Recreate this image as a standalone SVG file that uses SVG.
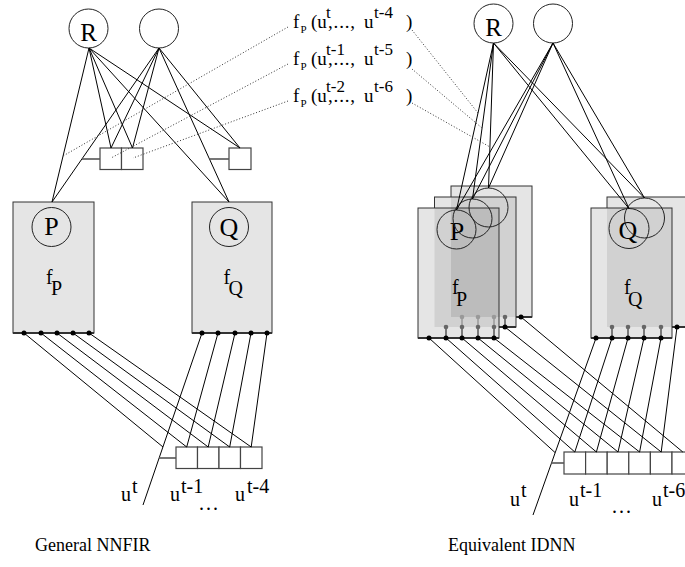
<svg xmlns="http://www.w3.org/2000/svg" width="685" height="567" viewBox="0 0 685 567">
<style>
  .ln { stroke:#000; stroke-width:1; fill:none; }
  .dots { stroke:#333; stroke-width:1; stroke-dasharray:1 2; fill:none; }
  .stub { stroke:#555; stroke-width:1.6; fill:none; }
  .node { fill:none; stroke:#222; stroke-width:1; }
  .boxfill { fill:#e5e5e5; stroke:none; }
  .ov1 { fill:#d1d1d1; stroke:none; }
  .ov2 { fill:#bcbcbc; stroke:none; }
  .outline { fill:none; stroke:#333; stroke-width:1; }
  .bus { stroke:#333; stroke-width:2; fill:none; }
  .cell { fill:#fff; stroke:#444; stroke-width:1.2; }
  .pin { fill:#000; }
  .pin1 { fill:#666; }
  .pin2 { fill:#999; }
  .tie1 { stroke:#555; stroke-width:1.5; }
  .tie2 { stroke:#999; stroke-width:1.5; }
  text { font-family:"Liberation Serif","Times New Roman",serif; fill:#000; }
  .big { font-size:25px; text-anchor:middle; }
  .mid { font-size:20px; }
  .lab { font-size:19px; }
  .sup { font-size:17px; }
  .sub { font-size:11px; }
  .cap { font-size:18px; }
</style>

<!-- ===================== General NNFIR (left) ===================== -->
<g id="left-output-R">
  <circle class="node" cx="88.5" cy="28.5" r="19.5"/>
  <text class="big" x="88.5" y="41">R</text>
</g>
<g id="left-output-2">
  <circle class="node" cx="159" cy="28.5" r="19.5"/>
</g>

<g id="left-delay-state">
  <rect class="cell" x="100" y="148" width="21.5" height="21.5"/>
  <rect class="cell" x="121.5" y="148" width="21.5" height="21.5"/>
</g>
<g id="left-delay-state-q">
  <rect class="cell" x="229" y="148" width="22" height="21.5"/>
</g>

<g id="left-P">
  <rect class="boxfill" x="13" y="202" width="81" height="131"/>
  <rect class="outline" x="13" y="202" width="81" height="131"/>
  <line class="bus" x1="13" y1="333" x2="94" y2="333"/>
  <circle class="node" cx="51.5" cy="227" r="19.5"/>
  <text class="big" x="51.5" y="235" style="font-size:26px">P</text>
  <text class="mid" x="46" y="284">f</text>
  <text class="mid" x="51" y="295">P</text>
  <circle class="pin" cx="24" cy="333" r="2.5"/>
  <circle class="pin" cx="41" cy="333" r="2.5"/>
  <circle class="pin" cx="57" cy="333" r="2.5"/>
  <circle class="pin" cx="73" cy="333" r="2.5"/>
  <circle class="pin" cx="89" cy="333" r="2.5"/>
</g>

<g id="left-Q">
  <rect class="boxfill" x="192" y="202" width="80" height="131"/>
  <rect class="outline" x="192" y="202" width="80" height="131"/>
  <line class="bus" x1="192" y1="333" x2="272" y2="333"/>
  <circle class="node" cx="229" cy="227" r="19.5"/>
  <text class="big" x="229" y="236" style="font-size:26px">Q</text>
  <text class="mid" x="223.5" y="284">f</text>
  <text class="mid" x="228.5" y="295">Q</text>
  <circle class="pin" cx="202" cy="333" r="2.5"/>
  <circle class="pin" cx="218" cy="333" r="2.5"/>
  <circle class="pin" cx="235" cy="333" r="2.5"/>
  <circle class="pin" cx="251" cy="333" r="2.5"/>
  <circle class="pin" cx="267" cy="333" r="2.5"/>
</g>

<g id="left-tapped-delay">
  <rect class="cell" x="176" y="447" width="21.5" height="21.5"/>
  <rect class="cell" x="197.5" y="447" width="21.5" height="21.5"/>
  <rect class="cell" x="219" y="447" width="21.5" height="21.5"/>
  <rect class="cell" x="240.5" y="447" width="21.5" height="21.5"/>
</g>

<g id="left-connectors">
  <!-- output units to P, state cells and Q -->
  <line class="ln" x1="89" y1="48" x2="52" y2="202"/>
  <line class="ln" x1="89" y1="48" x2="111" y2="148"/>
  <line class="ln" x1="89" y1="48" x2="132.5" y2="148"/>
  <line class="ln" x1="89" y1="48" x2="240" y2="148"/>
  <line class="ln" x1="89" y1="48" x2="229" y2="202"/>
  <line class="ln" x1="159" y1="48" x2="52" y2="202"/>
  <line class="ln" x1="159" y1="48" x2="111" y2="148"/>
  <line class="ln" x1="159" y1="48" x2="132.5" y2="148"/>
  <line class="ln" x1="159" y1="48" x2="240" y2="148"/>
  <line class="ln" x1="159" y1="48" x2="229" y2="202"/>
  <line class="stub" x1="82" y1="159" x2="100" y2="159"/>
  <line class="stub" x1="209.5" y1="159" x2="229" y2="159"/>
  <!-- input line and taps -->
  <line class="ln" x1="202" y1="333" x2="143" y2="505"/>
  <line class="stub" x1="159" y1="458" x2="176" y2="458"/>
  <line class="ln" x1="24" y1="333" x2="163" y2="447"/>
  <line class="ln" x1="41" y1="333" x2="186.7" y2="447"/>
  <line class="ln" x1="57" y1="333" x2="208.2" y2="447"/>
  <line class="ln" x1="73" y1="333" x2="229.7" y2="447"/>
  <line class="ln" x1="89" y1="333" x2="251.2" y2="447"/>
  <line class="ln" x1="218" y1="333" x2="186.7" y2="447"/>
  <line class="ln" x1="235" y1="333" x2="208.2" y2="447"/>
  <line class="ln" x1="251" y1="333" x2="229.7" y2="447"/>
  <line class="ln" x1="267" y1="333" x2="251.2" y2="447"/>
  <!-- dotted label leaders -->
  <line class="dots" x1="288" y1="27" x2="63" y2="156"/>
  <line class="dots" x1="288" y1="64" x2="111" y2="158"/>
  <line class="dots" x1="288" y1="101" x2="133" y2="158"/>
</g>

<g id="left-inputs">
  <text class="mid" x="121" y="501">u</text>
  <text class="mid" x="132" y="493">t</text>
  <text class="mid" x="170" y="501">u</text>
  <text class="mid" x="181" y="493">t-1</text>
  <text class="mid" x="199" y="510" style="letter-spacing:2px">...</text>
  <text class="mid" x="235" y="501">u</text>
  <text class="mid" x="247" y="493">t-4</text>
</g>

<!-- ===================== labels in the middle ===================== -->
<g id="label-1">
  <text class="lab" x="293" y="28">f</text>
  <text class="sub" x="300.5" y="33">P</text>
  <text class="lab" x="311" y="28">(u</text>
  <text class="sup" x="326" y="18">t</text>
  <text class="lab" x="328" y="28" textLength="27" lengthAdjust="spacing">,...,</text>
  <text class="lab" x="364" y="28">u</text>
  <text class="sup" x="374" y="18">t-4</text>
  <text class="lab" x="406" y="28">)</text>
</g>
<g id="label-2">
  <text class="lab" x="293" y="65">f</text>
  <text class="sub" x="300.5" y="70">P</text>
  <text class="lab" x="311" y="65">(u</text>
  <text class="sup" x="326" y="55">t-1</text>
  <text class="lab" x="328" y="65" textLength="27" lengthAdjust="spacing">,...,</text>
  <text class="lab" x="364" y="65">u</text>
  <text class="sup" x="374" y="55">t-5</text>
  <text class="lab" x="406" y="65">)</text>
</g>
<g id="label-3">
  <text class="lab" x="293" y="102">f</text>
  <text class="sub" x="300.5" y="107">P</text>
  <text class="lab" x="311" y="102">(u</text>
  <text class="sup" x="326" y="92">t-2</text>
  <text class="lab" x="328" y="102" textLength="27" lengthAdjust="spacing">,...,</text>
  <text class="lab" x="364" y="102">u</text>
  <text class="sup" x="374" y="92">t-6</text>
  <text class="lab" x="406" y="102">)</text>
</g>

<!-- ===================== Equivalent IDNN (right) ===================== -->
<g id="right-P-stack">
  <!-- back copy -->
  <rect class="boxfill" x="451" y="186" width="81" height="131"/>
  <rect class="outline" x="451" y="186" width="81" height="131"/>
  <line class="bus" x1="451" y1="317" x2="532" y2="317"/>
  <circle class="pin" cx="521" cy="317" r="2.5"/>
  <!-- middle copy -->
  <rect class="boxfill" x="434.5" y="197" width="81.5" height="130"/>
  <rect class="ov1" x="451" y="197" width="65" height="120"/>
  <rect class="outline" x="434.5" y="197" width="81.5" height="130"/>
  <line class="bus" x1="434.5" y1="327" x2="516" y2="327"/>
  <line class="tie1" x1="505" y1="317" x2="505" y2="327"/>
  <circle class="pin1" cx="505" cy="317" r="2.3"/>
  <circle class="pin" cx="505" cy="327" r="2.5"/>
  <!-- front copy -->
  <rect class="boxfill" x="418" y="208" width="81" height="130"/>
  <rect class="ov1" x="434.5" y="208" width="64.5" height="119"/>
  <rect class="ov2" x="451" y="208" width="48" height="109"/>
  <rect class="outline" x="418" y="208" width="81" height="130"/>
  <line class="bus" x1="418" y1="338" x2="499" y2="338"/>
  <line class="tie2" x1="462" y1="317" x2="462" y2="327"/>
  <line class="tie2" x1="478" y1="317" x2="478" y2="327"/>
  <line class="tie2" x1="494" y1="317" x2="494" y2="327"/>
  <line class="tie1" x1="446" y1="327" x2="446" y2="338"/>
  <line class="tie1" x1="462" y1="327" x2="462" y2="338"/>
  <line class="tie1" x1="478" y1="327" x2="478" y2="338"/>
  <line class="tie1" x1="494" y1="327" x2="494" y2="338"/>
  <circle class="pin2" cx="462" cy="317" r="2.3"/>
  <circle class="pin2" cx="478" cy="317" r="2.3"/>
  <circle class="pin2" cx="494" cy="317" r="2.3"/>
  <circle class="pin1" cx="446" cy="327" r="2.3"/>
  <circle class="pin1" cx="462" cy="327" r="2.3"/>
  <circle class="pin1" cx="478" cy="327" r="2.3"/>
  <circle class="pin1" cx="494" cy="327" r="2.3"/>
  <circle class="pin" cx="429" cy="338" r="2.5"/>
  <circle class="pin" cx="446" cy="338" r="2.5"/>
  <circle class="pin" cx="462" cy="338" r="2.5"/>
  <circle class="pin" cx="478" cy="338" r="2.5"/>
  <circle class="pin" cx="494" cy="338" r="2.5"/>
  <text class="mid" x="452" y="294">f</text>
  <text class="mid" x="456" y="306">P</text>
  <text class="big" x="457" y="240" style="font-size:26px">P</text>
  <circle class="node" cx="488.5" cy="207.5" r="19.5"/>
  <circle class="node" cx="472.5" cy="218.5" r="19.5"/>
  <circle class="node" cx="456.5" cy="229.5" r="19.5"/>
</g>

<g id="right-Q-stack">
  <!-- back copy -->
  <rect class="boxfill" x="607" y="197" width="81" height="130"/>
  <rect class="outline" x="607" y="197" width="81" height="130"/>
  <line class="bus" x1="607" y1="327" x2="688" y2="327"/>
  <circle class="pin" cx="677" cy="327" r="2.5"/>
  <!-- front copy -->
  <rect class="boxfill" x="591" y="208" width="81" height="130"/>
  <rect class="ov1" x="607" y="208" width="65" height="119"/>
  <rect class="outline" x="591" y="208" width="81" height="130"/>
  <line class="bus" x1="591" y1="338" x2="672" y2="338"/>
  <line class="tie1" x1="612" y1="327" x2="612" y2="338"/>
  <line class="tie1" x1="628" y1="327" x2="628" y2="338"/>
  <line class="tie1" x1="644" y1="327" x2="644" y2="338"/>
  <line class="tie1" x1="661" y1="327" x2="661" y2="338"/>
  <circle class="pin1" cx="612" cy="327" r="2.3"/>
  <circle class="pin1" cx="628" cy="327" r="2.3"/>
  <circle class="pin1" cx="644" cy="327" r="2.3"/>
  <circle class="pin1" cx="661" cy="327" r="2.3"/>
  <circle class="pin" cx="596" cy="338" r="2.5"/>
  <circle class="pin" cx="612" cy="338" r="2.5"/>
  <circle class="pin" cx="628" cy="338" r="2.5"/>
  <circle class="pin" cx="644" cy="338" r="2.5"/>
  <circle class="pin" cx="661" cy="338" r="2.5"/>
  <text class="mid" x="624" y="294">f</text>
  <text class="mid" x="628" y="306">Q</text>
  <text class="big" x="628" y="239" style="font-size:26px">Q</text>
  <circle class="node" cx="644.5" cy="218" r="20"/>
  <circle class="node" cx="629" cy="228.5" r="20"/>
</g>

<g id="right-output-R">
  <circle class="node" cx="493.5" cy="23.5" r="19.5"/>
  <text class="big" x="493.5" y="35.5">R</text>
</g>
<g id="right-output-2">
  <circle class="node" cx="553" cy="23.5" r="19.5"/>
</g>

<g id="right-tapped-delay">
  <rect class="cell" x="564" y="452" width="21.6" height="22"/>
  <rect class="cell" x="585.6" y="452" width="21.6" height="22"/>
  <rect class="cell" x="607.2" y="452" width="21.6" height="22"/>
  <rect class="cell" x="628.8" y="452" width="21.6" height="22"/>
  <rect class="cell" x="650.4" y="452" width="21.6" height="22"/>
  <rect class="cell" x="672" y="452" width="21.6" height="22"/>
</g>

<g id="right-connectors">
  <line class="ln" x1="493.5" y1="43" x2="456.5" y2="210"/>
  <line class="ln" x1="493.5" y1="43" x2="472.5" y2="199"/>
  <line class="ln" x1="493.5" y1="43" x2="488.5" y2="188"/>
  <line class="ln" x1="493.5" y1="43" x2="629" y2="208.5"/>
  <line class="ln" x1="493.5" y1="43" x2="644.5" y2="198"/>
  <line class="ln" x1="553" y1="43" x2="456.5" y2="210"/>
  <line class="ln" x1="553" y1="43" x2="472.5" y2="199"/>
  <line class="ln" x1="553" y1="43" x2="488.5" y2="188"/>
  <line class="ln" x1="553" y1="43" x2="629" y2="208.5"/>
  <line class="ln" x1="553" y1="43" x2="644.5" y2="198"/>
  <!-- input line and taps -->
  <line class="ln" x1="596" y1="338" x2="533" y2="515"/>
  <line class="stub" x1="551" y1="463" x2="564" y2="463"/>
  <line class="ln" x1="429" y1="338" x2="555" y2="452.5"/>
  <line class="ln" x1="446" y1="338" x2="574.8" y2="452"/>
  <line class="ln" x1="462" y1="338" x2="596.4" y2="452"/>
  <line class="ln" x1="478" y1="338" x2="618" y2="452"/>
  <line class="ln" x1="494" y1="338" x2="639.6" y2="452"/>
  <line class="ln" x1="505" y1="327" x2="661.2" y2="452"/>
  <line class="ln" x1="521" y1="317" x2="682.8" y2="452"/>
  <line class="ln" x1="612" y1="338" x2="574.8" y2="452"/>
  <line class="ln" x1="628" y1="338" x2="596.4" y2="452"/>
  <line class="ln" x1="644" y1="338" x2="618" y2="452"/>
  <line class="ln" x1="661" y1="338" x2="639.6" y2="452"/>
  <line class="ln" x1="677" y1="327" x2="661.2" y2="452"/>
  <!-- dotted label leaders -->
  <line class="dots" x1="412" y1="30" x2="478" y2="113"/>
  <line class="dots" x1="412" y1="69" x2="482" y2="128"/>
  <line class="dots" x1="412" y1="103" x2="490" y2="147"/>
</g>

<g id="right-inputs">
  <text class="mid" x="510" y="506">u</text>
  <text class="mid" x="521" y="497">t</text>
  <text class="mid" x="569" y="506">u</text>
  <text class="mid" x="580" y="497">t-1</text>
  <text class="mid" x="612" y="513" style="letter-spacing:2px">...</text>
  <text class="mid" x="652" y="506">u</text>
  <text class="mid" x="663" y="497">t-6</text>
</g>

<g id="captions">
  <text class="cap" x="35" y="551">General NNFIR</text>
  <text class="cap" x="448" y="551">Equivalent IDNN</text>
</g>
</svg>
